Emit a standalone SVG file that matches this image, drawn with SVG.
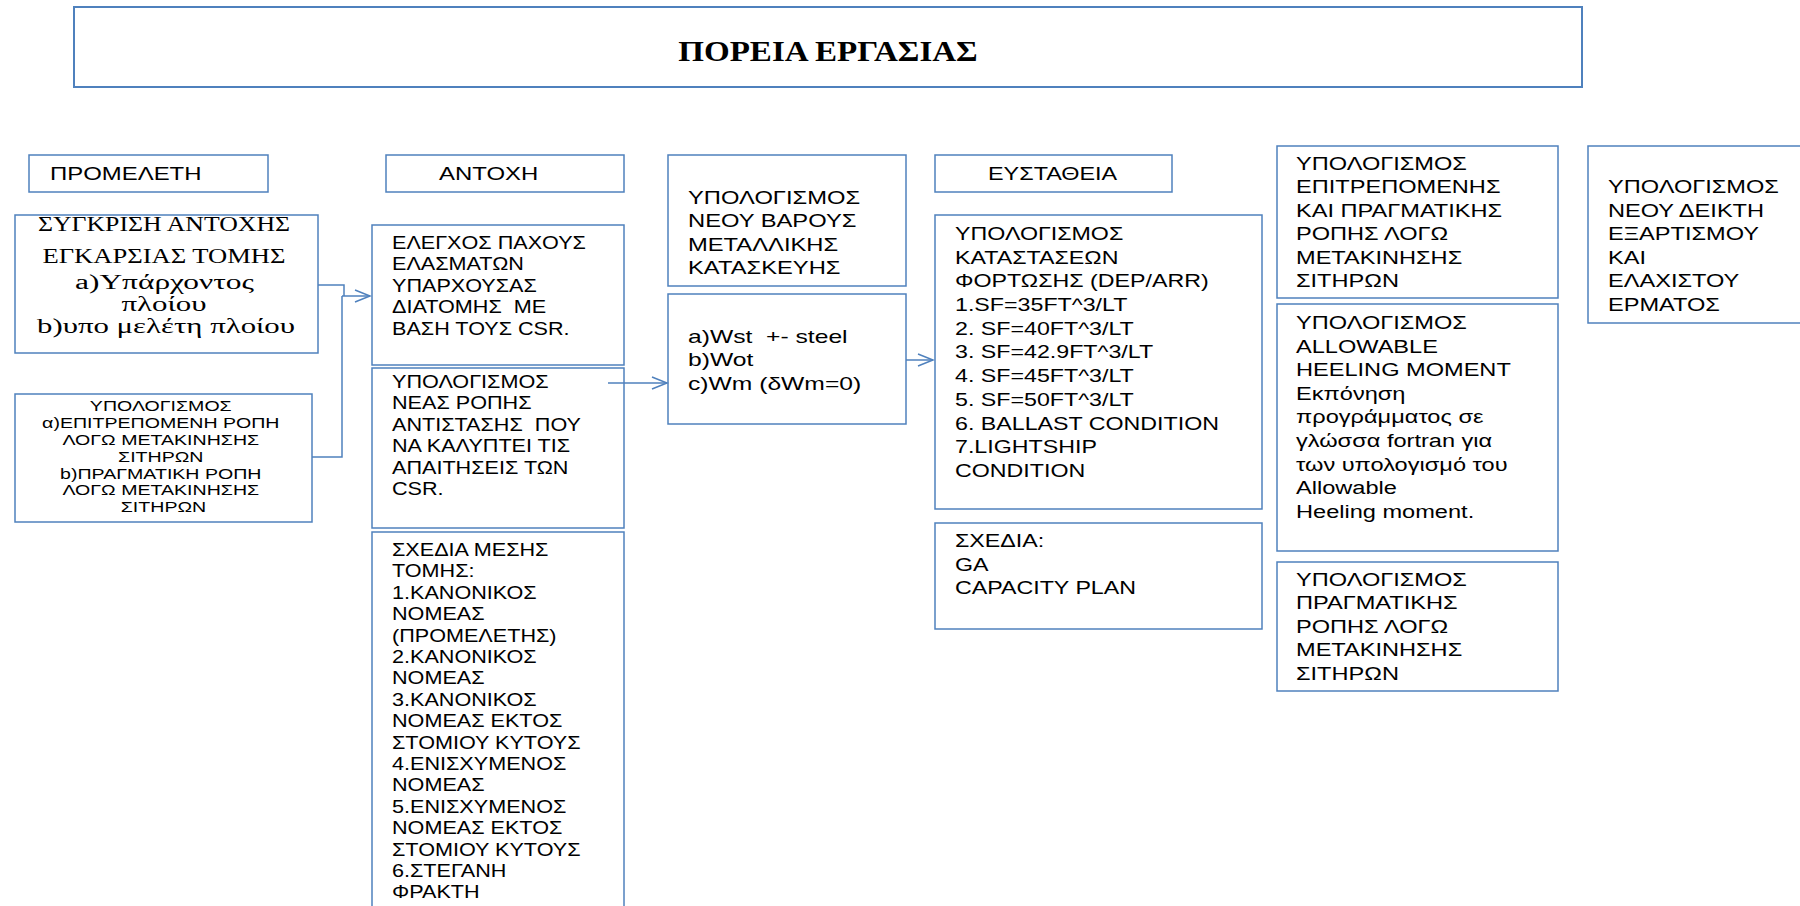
<svg xmlns="http://www.w3.org/2000/svg" width="1800" height="906" viewBox="0 0 1800 906">
<style>
.box{fill:#fff;stroke:#4f81bd;stroke-width:1.5}
.title{fill:#fff;stroke:#4f81bd;stroke-width:2}
.t{font-family:"Liberation Sans",Arial,sans-serif;font-size:18px;fill:#000;white-space:pre}
.s{font-family:"Liberation Sans",Arial,sans-serif;font-size:14.5px;fill:#000}
.serif{font-family:"Liberation Serif","Times New Roman",serif;font-size:20px;fill:#000}
.tt{font-family:"Liberation Serif","Times New Roman",serif;font-size:29px;font-weight:bold;fill:#000}
.conn{stroke:#4f81bd;stroke-width:1.5;fill:none}
</style>
<defs>
<marker id="arr" markerUnits="userSpaceOnUse" markerWidth="18" markerHeight="14" refX="16" refY="7" orient="auto">
<path d="M1,1 L16,7 L1,13" fill="none" stroke="#4f81bd" stroke-width="1.5"/>
</marker>
</defs>
<rect width="1800" height="906" fill="#fff"/>

<g id="title">
<rect class="title" x="74" y="7" width="1508" height="80"/>
<text class="tt" text-anchor="middle" transform="translate(828,61) scale(1.14,1)" x="0" y="0">ΠΟΡΕΙΑ ΕΡΓΑΣΙΑΣ</text>
</g>

<g id="h-promeleti">
<rect class="box" x="29" y="155" width="239" height="37"/>
<text class="t" transform="translate(50,180) scale(1.33,1)">ΠΡΟΜΕΛΕΤΗ</text>
</g>
<g id="h-antoxi">
<rect class="box" x="386" y="155" width="238" height="37"/>
<text class="t" transform="translate(439,180) scale(1.33,1)">ΑΝΤΟΧΗ</text>
</g>
<g id="h-eystatheia">
<rect class="box" x="935" y="155" width="237" height="37"/>
<text class="t" transform="translate(988,180) scale(1.3,1)">ΕΥΣΤΑΘΕΙΑ</text>
</g>

<g id="sygkrisi">
<rect class="box" x="15" y="215" width="303" height="138"/>
<text class="serif" text-anchor="middle">
<tspan x="166.5" y="231" textLength="252" lengthAdjust="spacingAndGlyphs">ΣΥΓΚΡΙΣΗ ΑΝΤΟΧΗΣ</tspan>
<tspan x="166.5" y="263" textLength="243" lengthAdjust="spacingAndGlyphs">ΕΓΚΑΡΣΙΑΣ ΤΟΜΗΣ</tspan>
<tspan x="167" y="289" textLength="179" lengthAdjust="spacingAndGlyphs">a)Υπάρχοντος</tspan>
<tspan x="166.5" y="311" textLength="85" lengthAdjust="spacingAndGlyphs">πλοίου</tspan>
<tspan x="166" y="333" textLength="258" lengthAdjust="spacingAndGlyphs">b)υπο μελέτη πλοίου</tspan>
</text>
</g>

<g id="ypologismos-ropi">
<rect class="box" x="15" y="394" width="297" height="128"/>
<text class="s" text-anchor="middle" transform="translate(163.5,0) scale(1.35,1)">
<tspan x="0" y="411.5">ΥΠΟΛΟΓΙΣΜΟΣ</tspan>
<tspan x="0" y="428.3">α)ΕΠΙΤΡΕΠΟΜΕΝΗ ΡΟΠΗ</tspan>
<tspan x="0" y="445">ΛΟΓΩ ΜΕΤΑΚΙΝΗΣΗΣ</tspan>
<tspan x="0" y="462">ΣΙΤΗΡΩΝ</tspan>
<tspan x="0" y="478.7">b)ΠΡΑΓΜΑΤΙΚΗ ΡΟΠΗ</tspan>
<tspan x="0" y="495.5">ΛΟΓΩ ΜΕΤΑΚΙΝΗΣΗΣ</tspan>
<tspan x="0" y="512">ΣΙΤΗΡΩΝ</tspan>
</text>
</g>

<g id="elegxos">
<rect class="box" x="372" y="225" width="252" height="140"/>
<text class="t" transform="translate(392,0) scale(1.2,1)">
<tspan x="0" y="249">ΕΛΕΓΧΟΣ ΠΑΧΟΥΣ</tspan>
<tspan x="0" y="270.5">ΕΛΑΣΜΑΤΩΝ</tspan>
<tspan x="0" y="292">ΥΠΑΡΧΟΥΣΑΣ</tspan>
<tspan x="0" y="313.5">ΔΙΑΤΟΜΗΣ  ΜΕ</tspan>
<tspan x="0" y="335">ΒΑΣΗ ΤΟΥΣ CSR.</tspan>
</text>
</g>

<g id="nea-ropi">
<rect class="box" x="372" y="368" width="252" height="160"/>
<text class="t" transform="translate(392,0) scale(1.2,1)">
<tspan x="0" y="388">ΥΠΟΛΟΓΙΣΜΟΣ</tspan>
<tspan x="0" y="409.5">ΝΕΑΣ ΡΟΠΗΣ</tspan>
<tspan x="0" y="431">ΑΝΤΙΣΤΑΣΗΣ  ΠΟΥ</tspan>
<tspan x="0" y="452.5">ΝΑ ΚΑΛΥΠΤΕΙ ΤΙΣ</tspan>
<tspan x="0" y="474">ΑΠΑΙΤΗΣΕΙΣ ΤΩΝ</tspan>
<tspan x="0" y="495.5">CSR.</tspan>
</text>
</g>

<g id="sxedia-mesis">
<rect class="box" x="372" y="532" width="252" height="400"/>
<text class="t" transform="translate(392,0) scale(1.2,1)">
<tspan x="0" y="556">ΣΧΕΔΙΑ ΜΕΣΗΣ</tspan>
<tspan x="0" dy="21.4">ΤΟΜΗΣ:</tspan>
<tspan x="0" dy="21.4">1.ΚΑΝΟΝΙΚΟΣ</tspan>
<tspan x="0" dy="21.4">ΝΟΜΕΑΣ</tspan>
<tspan x="0" dy="21.4">(ΠΡΟΜΕΛΕΤΗΣ)</tspan>
<tspan x="0" dy="21.4">2.ΚΑΝΟΝΙΚΟΣ</tspan>
<tspan x="0" dy="21.4">ΝΟΜΕΑΣ</tspan>
<tspan x="0" dy="21.4">3.ΚΑΝΟΝΙΚΟΣ</tspan>
<tspan x="0" dy="21.4">ΝΟΜΕΑΣ ΕΚΤΟΣ</tspan>
<tspan x="0" dy="21.4">ΣΤΟΜΙΟΥ ΚΥΤΟΥΣ</tspan>
<tspan x="0" dy="21.4">4.ΕΝΙΣΧΥΜΕΝΟΣ</tspan>
<tspan x="0" dy="21.4">ΝΟΜΕΑΣ</tspan>
<tspan x="0" dy="21.4">5.ΕΝΙΣΧΥΜΕΝΟΣ</tspan>
<tspan x="0" dy="21.4">ΝΟΜΕΑΣ ΕΚΤΟΣ</tspan>
<tspan x="0" dy="21.4">ΣΤΟΜΙΟΥ ΚΥΤΟΥΣ</tspan>
<tspan x="0" dy="21.4">6.ΣΤΕΓΑΝΗ</tspan>
<tspan x="0" dy="21.4">ΦΡΑΚΤΗ</tspan>
</text>
</g>

<g id="neo-varos">
<rect class="box" x="668" y="155" width="238" height="131"/>
<text class="t" transform="translate(688,0) scale(1.32,1)">
<tspan x="0" y="204">ΥΠΟΛΟΓΙΣΜΟΣ</tspan>
<tspan x="0" y="227.5">ΝΕΟΥ ΒΑΡΟΥΣ</tspan>
<tspan x="0" y="251">ΜΕΤΑΛΛΙΚΗΣ</tspan>
<tspan x="0" y="274.5">ΚΑΤΑΣΚΕΥΗΣ</tspan>
</text>
</g>

<g id="weights">
<rect class="box" x="668" y="294" width="238" height="130"/>
<text class="t" transform="translate(688,0) scale(1.37,1)">
<tspan x="0" y="343">a)Wst  +- steel</tspan>
<tspan x="0" y="366.5">b)Wot</tspan>
<tspan x="0" y="390">c)Wm (δWm=0)</tspan>
</text>
</g>

<g id="katastaseis">
<rect class="box" x="935" y="215" width="327" height="294"/>
<text class="t" transform="translate(955,0) scale(1.29,1)">
<tspan x="0" y="240">ΥΠΟΛΟΓΙΣΜΟΣ</tspan>
<tspan x="0" dy="23.7">ΚΑΤΑΣΤΑΣΕΩΝ</tspan>
<tspan x="0" dy="23.7">ΦΟΡΤΩΣΗΣ (DEP/ARR)</tspan>
<tspan x="0" dy="23.7">1.SF=35FT^3/LT</tspan>
<tspan x="0" dy="23.7">2. SF=40FT^3/LT</tspan>
<tspan x="0" dy="23.7">3. SF=42.9FT^3/LT</tspan>
<tspan x="0" dy="23.7">4. SF=45FT^3/LT</tspan>
<tspan x="0" dy="23.7">5. SF=50FT^3/LT</tspan>
<tspan x="0" dy="23.7">6. BALLAST CONDITION</tspan>
<tspan x="0" dy="23.7">7.LIGHTSHIP</tspan>
<tspan x="0" dy="23.7">CONDITION</tspan>
</text>
</g>

<g id="sxedia-ga">
<rect class="box" x="935" y="523" width="327" height="106"/>
<text class="t" transform="translate(955,0) scale(1.29,1)">
<tspan x="0" y="547">ΣΧΕΔΙΑ:</tspan>
<tspan x="0" dy="23.7">GA</tspan>
<tspan x="0" dy="23.7">CAPACITY PLAN</tspan>
</text>
</g>

<g id="epitrepomeni">
<rect class="box" x="1277" y="146" width="281" height="152"/>
<text class="t" transform="translate(1296,0) scale(1.31,1)">
<tspan x="0" y="170">ΥΠΟΛΟΓΙΣΜΟΣ</tspan>
<tspan x="0" dy="23.5">ΕΠΙΤΡΕΠΟΜΕΝΗΣ</tspan>
<tspan x="0" dy="23.5">ΚΑΙ ΠΡΑΓΜΑΤΙΚΗΣ</tspan>
<tspan x="0" dy="23.5">ΡΟΠΗΣ ΛΟΓΩ</tspan>
<tspan x="0" dy="23.5">ΜΕΤΑΚΙΝΗΣΗΣ</tspan>
<tspan x="0" dy="23.5">ΣΙΤΗΡΩΝ</tspan>
</text>
</g>

<g id="allowable">
<rect class="box" x="1277" y="304" width="281" height="247"/>
<text class="t" transform="translate(1296,0) scale(1.31,1)">
<tspan x="0" y="329">ΥΠΟΛΟΓΙΣΜΟΣ</tspan>
<tspan x="0" dy="23.6">ALLOWABLE</tspan>
<tspan x="0" dy="23.6">HEELING MOMENT</tspan>
<tspan x="0" dy="23.6">Εκπόνηση</tspan>
<tspan x="0" dy="23.6">προγράμματος σε</tspan>
<tspan x="0" dy="23.6">γλώσσα fortran για</tspan>
<tspan x="0" dy="23.6">των υπολογισμό του</tspan>
<tspan x="0" dy="23.6">Allowable</tspan>
<tspan x="0" dy="23.6">Heeling moment.</tspan>
</text>
</g>

<g id="pragmatiki">
<rect class="box" x="1277" y="562" width="281" height="129"/>
<text class="t" transform="translate(1296,0) scale(1.31,1)">
<tspan x="0" y="586">ΥΠΟΛΟΓΙΣΜΟΣ</tspan>
<tspan x="0" dy="23.5">ΠΡΑΓΜΑΤΙΚΗΣ</tspan>
<tspan x="0" dy="23.5">ΡΟΠΗΣ ΛΟΓΩ</tspan>
<tspan x="0" dy="23.5">ΜΕΤΑΚΙΝΗΣΗΣ</tspan>
<tspan x="0" dy="23.5">ΣΙΤΗΡΩΝ</tspan>
</text>
</g>

<g id="deiktis">
<rect class="box" x="1588" y="146" width="230" height="177"/>
<text class="t" transform="translate(1608,0) scale(1.31,1)">
<tspan x="0" y="193.5">ΥΠΟΛΟΓΙΣΜΟΣ</tspan>
<tspan x="0" dy="23.5">ΝΕΟΥ ΔΕΙΚΤΗ</tspan>
<tspan x="0" dy="23.5">ΕΞΑΡΤΙΣΜΟΥ</tspan>
<tspan x="0" dy="23.5">ΚΑΙ</tspan>
<tspan x="0" dy="23.5">ΕΛΑΧΙΣΤΟΥ</tspan>
<tspan x="0" dy="23.5">ΕΡΜΑΤΟΣ</tspan>
</text>
</g>

<g id="connectors">
<path class="conn" d="M318,285 H344 V296"/>
<path class="conn" d="M312,457 H342 V296"/>
<path class="conn" d="M342,296 H370" marker-end="url(#arr)"/>
<path class="conn" d="M608,383 H667" marker-end="url(#arr)"/>
<path class="conn" d="M906,360 H933" marker-end="url(#arr)"/>
</g>
</svg>
